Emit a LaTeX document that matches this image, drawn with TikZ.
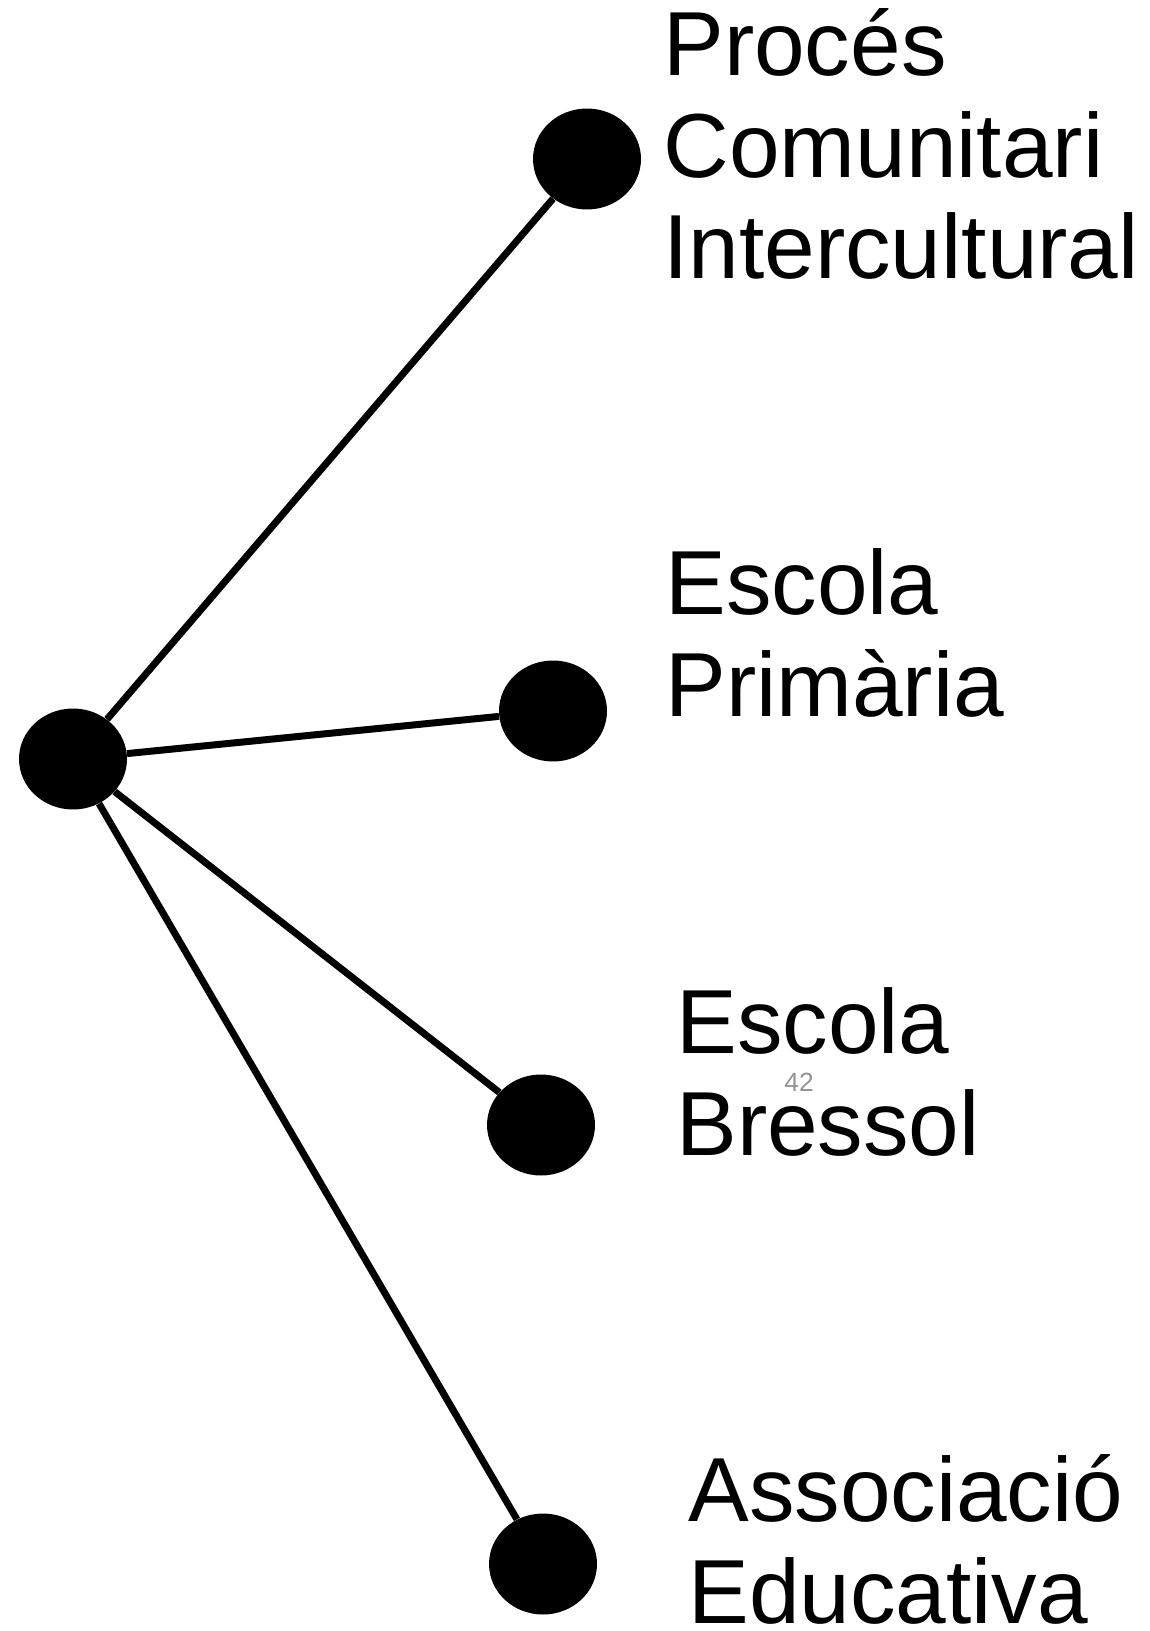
\documentclass[tikz,border=0pt]{standalone}
\usepackage{fontspec}
\setmainfont{Liberation Sans}
\usetikzlibrary{positioning}
\usetikzlibrary{shapes.geometric}
\tikzset{
        dot/.style={ellipse,fill=black,inner sep=0pt,minimum width=2.16cm,minimum height=2.02cm},
        link/.style={line width=0.14cm},
        nametext/.style={anchor=base west,align=left,inner sep=0pt,font=\fontsize{51.8}{58}\selectfont},
        pagenum/.style={inner sep=0pt,text=black!42,font=\fontsize{15}{18}\selectfont},
        }

\begin{document}
\begin{tikzpicture}[x=0.02cm,y=-0.02cm]
			\useasboundingbox (0,0) rectangle (1149,1631);

			% hub dot...................
			\node [dot] (hub) at (73,759) {};

			% branch dots...................
			\node [dot] (proces) at (587,159) {};
			\node [dot] (primaria) at (553,711) {};
			\node [dot] (bressol) at (541,1125) {};
			\node [dot] (associacio) at (543,1564) {};

			% connectors....................
			\draw [link] (hub) to (proces);
			\draw [link] (hub) to (primaria);
			\draw [link] (hub) to (bressol);
			\draw [link] (hub) to (associacio);

			% labels (anchored at last baseline)..............
			\node [nametext] (tproces) at (663,279) {Procés\\Comunitari\\Intercultural};
			\node [nametext] (tprimaria) at (665,716) {Escola\\Primària};
			\node [nametext] (tbressol) at (676,1155) {Escola\\Bressol};
			\node [nametext] (tassociacio) at (688,1623) {Associació\\Educativa};

			% page number.......................
			\node [pagenum] (page) at (799,1082) {42};
		\end{tikzpicture}
\end{document}
